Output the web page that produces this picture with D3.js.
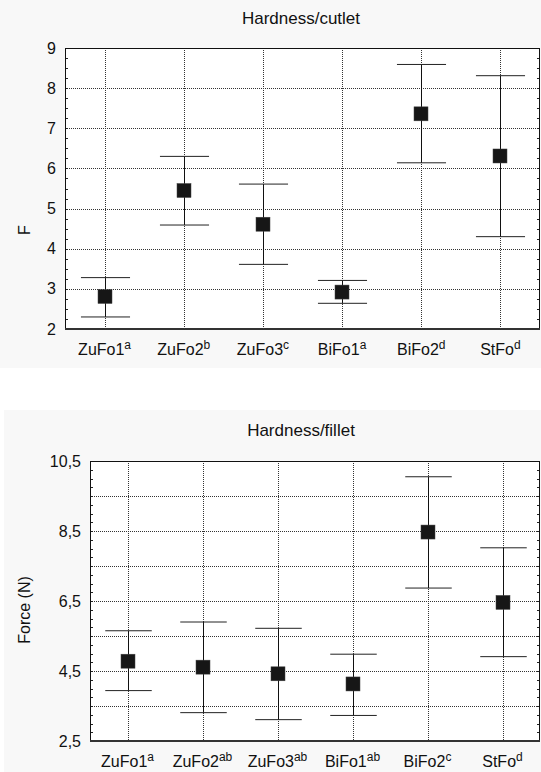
<!DOCTYPE html>
<html>
<head>
<meta charset="utf-8">
<script src="https://cdn.jsdelivr.net/npm/d3@7"></script>
<style>
  body { margin: 0; background: #fff; }
  text { font-family: "Liberation Sans", Arial, sans-serif; fill: #111; }
</style>
</head>
<body>
<div id="cont"></div>
<script>
var categories = ["ZuFo1", "ZuFo2", "ZuFo3", "BiFo1", "BiFo2", "StFo"];

var cutletSup = ["a", "b", "c", "a", "d", "d"];
var cutletMean = [2.81, 5.45, 4.61, 2.92, 7.36, 6.31];
var cutletLow = [2.30, 4.59, 3.61, 2.64, 6.14, 4.30];
var cutletHigh = [3.28, 6.30, 5.61, 3.21, 8.59, 8.31];
var cutletTicks = [2, 3, 4, 5, 6, 7, 8, 9];
var cutletGrid = [3, 4, 5, 6, 7, 8];

var filletSup = ["a", "ab", "ab", "ab", "c", "d"];
var filletMean = [4.78, 4.61, 4.42, 4.13, 8.47, 6.46];
var filletLow = [3.94, 3.31, 3.11, 3.23, 6.87, 4.91];
var filletHigh = [5.65, 5.90, 5.72, 4.98, 10.05, 8.02];
var filletTicks = [2.5, 4.5, 6.5, 8.5, 10.5];
var filletGrid = [3.5, 4.5, 5.5, 6.5, 7.5, 8.5, 9.5];

var svg = d3.select("#cont").append("svg")
  .attr("width", 541)
  .attr("height", 772);

// light grey panels behind each graph
svg.append("rect").attr("x", 0).attr("y", 0).attr("width", 541).attr("height", 368).style("fill", "#f8f8f8");
svg.append("rect").attr("x", 4).attr("y", 410).attr("width", 537).attr("height", 362).style("fill", "#f8f8f8");

function drawChart(o) {
  var x = d3.scaleBand().domain(categories).range([o.left, o.right]);
  var y = d3.scaleLinear().domain(o.domain).range([o.bottom, o.top]);
  var g = svg.append("g");

  g.append("rect")
    .attr("x", o.left).attr("y", o.top)
    .attr("width", o.right - o.left).attr("height", o.bottom - o.top)
    .style("fill", "#fff");

  // dotted grid
  g.selectAll(".hg").data(o.grid).enter().append("line")
    .attr("x1", o.left).attr("x2", o.right)
    .attr("y1", function(d) { return Math.round(y(d)) + 0.5; })
    .attr("y2", function(d) { return Math.round(y(d)) + 0.5; })
    .style("stroke", "#333").style("stroke-dasharray", "1,1");
  g.selectAll(".vg").data(categories).enter().append("line")
    .attr("x1", function(d) { return Math.round(x(d) + x.bandwidth() / 2) + 0.5; })
    .attr("x2", function(d) { return Math.round(x(d) + x.bandwidth() / 2) + 0.5; })
    .attr("y1", o.top).attr("y2", o.bottom)
    .style("stroke", "#333").style("stroke-dasharray", "1,1");

  // minor ticks inside left and right border
  var minor = d3.range(o.domain[0], o.domain[1] + 0.001, 0.25);
  g.selectAll(".ml").data(minor).enter().append("line")
    .attr("x1", o.left).attr("x2", o.left + 3)
    .attr("y1", function(d) { return Math.round(y(d)) + 0.5; })
    .attr("y2", function(d) { return Math.round(y(d)) + 0.5; })
    .style("stroke", "#222");
  g.selectAll(".mr").data(minor).enter().append("line")
    .attr("x1", o.right - 3).attr("x2", o.right)
    .attr("y1", function(d) { return Math.round(y(d)) + 0.5; })
    .attr("y2", function(d) { return Math.round(y(d)) + 0.5; })
    .style("stroke", "#222");

  // frame
  g.append("rect")
    .attr("x", o.left + 0.5).attr("y", o.top + 0.5)
    .attr("width", o.right - o.left - 1).attr("height", o.bottom - o.top - 1)
    .style("fill", "none").style("stroke", "#111");
  g.append("line")
    .attr("x1", o.left).attr("x2", o.right)
    .attr("y1", o.bottom).attr("y2", o.bottom)
    .style("stroke", "#333").style("stroke-width", 2);

  // y axis labels
  var yAxis = d3.axisLeft(y).tickValues(o.ticks).tickSize(0).tickPadding(9)
    .tickFormat(function(d) { return String(d).replace(".", ","); });
  var ya = g.append("g").attr("transform", "translate(" + o.left + ",0)").call(yAxis);
  ya.select(".domain").remove();
  ya.selectAll("text").style("font-size", "16px").style("font-family", null).attr("fill", "#111");

  // x labels with superscript letters
  var xl = g.selectAll(".xl").data(categories).enter().append("text")
    .attr("x", function(d) { return x(d) + x.bandwidth() / 2; })
    .attr("y", o.bottom + 26)
    .attr("text-anchor", "middle")
    .style("font-size", "16px");
  xl.append("tspan").text(function(d) { return d; });
  xl.append("tspan")
    .attr("dy", -6)
    .style("font-size", "12px")
    .text(function(d, i) { return o.sup[i]; });

  // error bars
  var cap = x.bandwidth() * 0.31;
  var bars = g.selectAll(".eb").data(categories).enter().append("g")
    .attr("transform", function(d) { return "translate(" + (Math.round(x(d) + x.bandwidth() / 2) + 0.5) + ",0)"; });
  bars.append("line")
    .attr("y1", function(d, i) { return y(o.low[i]); })
    .attr("y2", function(d, i) { return y(o.high[i]); })
    .style("stroke", "#111");
  bars.append("line")
    .attr("x1", -cap).attr("x2", cap)
    .attr("y1", function(d, i) { return y(o.high[i]); })
    .attr("y2", function(d, i) { return y(o.high[i]); })
    .style("stroke", "#222");
  bars.append("line")
    .attr("x1", -cap).attr("x2", cap)
    .attr("y1", function(d, i) { return y(o.low[i]); })
    .attr("y2", function(d, i) { return y(o.low[i]); })
    .style("stroke", "#222");
  bars.append("rect")
    .attr("x", -7.5).attr("width", 14).attr("height", 14)
    .attr("y", function(d, i) { return y(o.mean[i]) - 7; })
    .style("fill", "#161616").style("stroke", "#444").style("stroke-width", 0.5);

  g.append("text")
    .attr("x", 301).attr("y", o.titleY)
    .attr("text-anchor", "middle")
    .style("font-size", "17px")
    .text(o.title);
  g.append("text")
    .attr("transform", "translate(30," + o.labelY + ") rotate(-90)")
    .attr("text-anchor", "middle")
    .style("font-size", "16px")
    .text(o.ylabel);
}

drawChart({
  left: 65, right: 540, top: 48, bottom: 329,
  domain: [2, 9], ticks: cutletTicks, grid: cutletGrid,
  mean: cutletMean, low: cutletLow, high: cutletHigh, sup: cutletSup,
  title: "Hardness/cutlet", titleY: 24, ylabel: "F", labelY: 230
});

drawChart({
  left: 90, right: 540, top: 461, bottom: 741,
  domain: [2.5, 10.5], ticks: filletTicks, grid: filletGrid,
  mean: filletMean, low: filletLow, high: filletHigh, sup: filletSup,
  title: "Hardness/fillet", titleY: 436, ylabel: "Force (N)", labelY: 610
});
</script>
</body>
</html>
